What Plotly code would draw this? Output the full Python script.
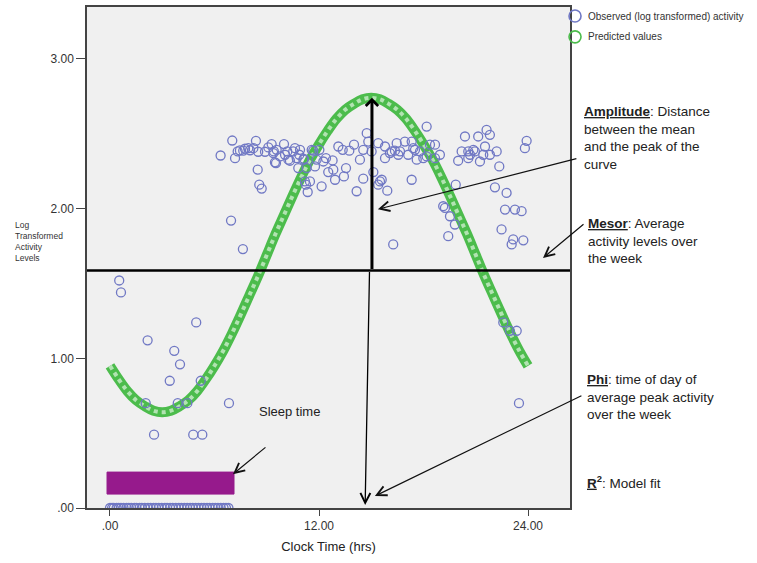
import plotly.graph_objects as go

# ---------------- data ----------------
obs_hours = [
    0.53, 0.63, 2.16, 3.69, 4.02, 4.95, 3.43, 5.21, 2.05, 3.89, 4.44, 6.83, 2.53, 4.78, 5.30, 7.63, 6.95,
    6.35, 7.02, 7.18, 7.33, 7.46, 7.65, 7.75, 7.94, 8.04, 8.23, 8.38, 8.48, 8.51, 8.57, 8.71, 8.90,
    9.09, 9.28, 9.38, 9.41, 9.47, 9.53, 9.57, 9.76, 9.99, 10.05, 10.18, 10.24, 10.33, 10.52, 10.62,
    10.72, 10.81, 10.87, 10.91, 11.10, 11.14, 11.19, 11.25, 11.29, 11.35, 11.48, 11.58, 11.67, 11.77,
    11.86, 12.02, 12.15, 12.25,
    12.40, 12.53, 12.78, 12.82, 12.92, 13.11, 13.36, 13.43, 13.55, 13.74, 14.01, 14.16, 14.35, 14.54,
    14.54, 14.74, 14.83, 15.02, 15.12, 15.40, 15.40, 15.50, 15.60, 15.79, 15.79, 15.92, 16.07, 16.17,
    16.26, 16.36, 16.46, 16.55, 16.65, 16.93, 17.12, 17.32, 17.32, 17.41, 17.51, 17.61, 17.80, 17.99,
    18.18, 18.18, 18.37, 18.66, 18.66, 18.94,
    19.13, 19.23, 19.42, 19.52, 19.80, 19.85, 19.99, 20.19, 20.38, 20.57, 20.57, 20.67, 20.86, 20.95,
    21.14, 21.24, 21.43, 21.53, 21.62, 21.81, 21.81, 22.10, 22.20, 22.35, 22.48, 22.68, 22.77, 23.06,
    23.15, 23.25, 23.63, 23.73, 23.82, 23.92, 22.58, 22.96, 23.35, 23.48,
]
obs_values = [
    1.52, 1.44, 1.12, 1.05, 0.96, 1.24, 0.85, 0.85, 0.70, 0.70, 0.70, 0.70, 0.49, 0.49, 0.49, 1.73, 1.92,
    2.355, 2.455, 2.337, 2.382, 2.389, 2.387, 2.40, 2.404, 2.39, 2.404, 2.453, 2.26, 2.38, 2.16, 2.134, 2.38,
    2.409, 2.431, 2.371, 2.382, 2.309, 2.304, 2.393, 2.349, 2.431, 2.36, 2.382, 2.327, 2.32, 2.382, 2.404,
    2.337, 2.271, 2.36, 2.393, 2.327, 2.333, 2.182, 2.16, 2.271, 2.111, 2.182, 2.393, 2.387, 2.282,
    2.327, 2.393, 2.149, 2.315,
    2.337, 2.244, 2.322, 2.26, 2.193, 2.415, 2.393, 2.215, 2.271, 2.387, 2.427, 2.116, 2.327, 2.20,
    2.393, 2.504, 2.448, 2.382, 2.244, 2.437, 2.16, 2.182, 2.193, 2.337, 2.415, 2.12, 2.371, 2.382,
    1.761, 2.387, 2.437, 2.36, 2.382, 2.448, 2.36, 2.193, 2.448, 2.404, 2.393, 2.327, 2.382, 2.337,
    2.548, 2.349, 2.427, 2.427, 2.337, 2.36,
    2.016, 2.005, 1.816, 1.949, 1.894, 2.16, 2.32, 2.382, 2.482, 2.382, 2.337, 2.36, 2.393, 2.382,
    2.482, 2.315, 2.36, 2.415, 2.526, 2.493, 2.36, 2.142, 2.382, 2.282, 1.861, 1.994, 2.105, 1.761,
    1.794, 1.994, 1.983, 1.788, 2.404, 2.453, 1.24, 1.184, 1.184, 0.70,
]

zero_hours = [
    0.0, 0.12, 0.22, 0.38, 0.5, 0.63, 0.78, 0.95, 1.08, 1.22, 1.4, 1.52, 1.7, 1.83, 2.0, 2.18,
    2.33, 2.5, 2.64, 2.8, 2.97, 3.15, 3.28, 3.45, 3.6, 3.78, 3.95, 4.1, 4.27, 4.43, 4.6, 4.75,
    4.92, 5.08, 5.25, 5.4, 5.57, 5.72, 5.9, 6.05, 6.2, 6.36, 6.52, 6.66, 6.8,
]
zero_values = [0.0] * len(zero_hours)

pred_hours = [
    0, 0.5, 1, 1.5, 2, 2.5, 3, 3.5, 4, 4.5, 5, 5.5, 6, 6.5, 7, 7.5, 8, 8.5, 9, 9.5, 10, 10.5, 11,
    11.5, 12, 12.5, 13, 13.5, 14, 14.5, 15, 15.5, 16, 16.5, 17, 17.5, 18, 18.5, 19, 19.5, 20, 20.5,
    21, 21.5, 22, 22.5, 23, 23.5, 24,
]
pred_values = [
    0.95, 0.86, 0.78, 0.72, 0.68, 0.65, 0.64, 0.65, 0.68, 0.72, 0.78, 0.86, 0.95, 1.05, 1.165, 1.29,
    1.42, 1.55, 1.69, 1.83, 1.96, 2.09, 2.215, 2.33, 2.43, 2.52, 2.60, 2.66, 2.70, 2.73, 2.74, 2.73,
    2.70, 2.66, 2.60, 2.52, 2.43, 2.33, 2.215, 2.09, 1.96, 1.83, 1.69, 1.55, 1.42, 1.29, 1.165, 1.05,
    0.95,
]

mesor = 1.587
peak_hour = 15.04
peak_value = 2.74
sleep_start, sleep_end = -0.17, 7.12

x_tickvals = [0, 12, 24]
x_ticktext = [".00", "12.00", "24.00"]
y_tickvals = [0, 1, 2, 3]
y_ticktext = [".00", "1.00", "2.00", "3.00"]

# ---------------- styling ----------------
FONT = "Arial, Liberation Sans, Helvetica, sans-serif"
BLUE = "#7078C4"
GREEN = "#4CBC4C"
GREEN_LIGHT = "#B2E3B2"
TXT = "#222222"

fig = go.Figure()

# predicted curve (band of rings)
fig.add_trace(go.Scatter(x=pred_hours, y=pred_values, mode="lines",
                         line=dict(color=GREEN, width=10, shape="spline"),
                         showlegend=False, hoverinfo="skip"))
fig.add_trace(go.Scatter(x=pred_hours, y=pred_values, mode="lines",
                         line=dict(color=GREEN_LIGHT, width=4, shape="spline", dash="dot"),
                         showlegend=False, hoverinfo="skip"))

# observed
fig.add_trace(go.Scatter(x=obs_hours + zero_hours, y=obs_values + zero_values, mode="markers",
                         marker=dict(symbol="circle-open", size=9, color=BLUE,
                                     line=dict(width=1.3, color=BLUE)),
                         cliponaxis=True, showlegend=False))

shapes = []
# sleep bar
shapes.append(dict(type="rect", xref="x", yref="y", x0=sleep_start, x1=sleep_end, y0=0.093, y1=0.24,
                   fillcolor="#961A8C", line=dict(width=1, color="#961A8C"), layer="above"))
# mesor line
shapes.append(dict(type="line", xref="paper", yref="y", x0=0, x1=1, y0=mesor, y1=mesor,
                   line=dict(color="black", width=2.5), layer="above"))
# legend circles
for yp, col in [(0.982, BLUE), (0.9404, GREEN)]:
    shapes.append(dict(type="circle", xref="paper", yref="paper", xsizemode="pixel", ysizemode="pixel",
                       xanchor=1.0104, yanchor=yp, x0=-6, x1=6, y0=-6, y1=6,
                       line=dict(color=col, width=1.6)))

annotations = []
# amplitude thick arrow
annotations.append(dict(x=peak_hour, y=peak_value, ax=peak_hour, ay=mesor, xref="x", yref="y",
                        axref="x", ayref="y", text="", showarrow=True, arrowhead=4,
                        arrowwidth=3, arrowsize=0.8, arrowcolor="black"))
# phi thin arrow
annotations.append(dict(x=14.65, y=0.02, ax=14.9, ay=mesor, xref="x", yref="y",
                        axref="x", ayref="y", text="", showarrow=True, arrowhead=5,
                        arrowwidth=1.3, arrowsize=1.5, arrowcolor="black"))
# pointer arrows (head in data coords, tail offset in px)
for hx, hy, ax, ay in [(15.38, 1.996, 200, -51), (24.86, 1.67, 42, -35),
                       (15.21, 0.08, 208, -101), (7.06, 0.226, 34, -28)]:
    annotations.append(dict(x=hx, y=hy, ax=ax, ay=ay, xref="x", yref="y", text="",
                            showarrow=True, arrowhead=5, arrowwidth=1.2, arrowsize=1.6,
                            arrowcolor="#111111"))
# sleep label
annotations.append(dict(x=8.44, y=0.645, xref="x", yref="y", text="Sleep time", showarrow=False,
                        xanchor="left", yanchor="middle", font=dict(family=FONT, size=13, color=TXT)))
# side texts
side = [
    (1.0248, 0.811, "top", "<b><u>Amplitude</u></b>: Distance<br>between the mean<br>and the peak of the<br>curve"),
    (1.033, 0.5865, "top", "<b><u>Mesor</u></b>: Average<br>activity levels over<br>the week"),
    (1.031, 0.2764, "top", "<b><u>Phi</u></b>: time of day of<br>average peak activity<br>over the week"),
    (1.031, 0.0517, "middle", "<b><u>R</u><sup>2</sup></b>: Model fit"),
]
for xp, yp, ya, t in side:
    annotations.append(dict(x=xp, y=yp, xref="paper", yref="paper", text=t, showarrow=False,
                            xanchor="left", yanchor=ya, align="left",
                            font=dict(family=FONT, size=13.5, color=TXT)))
# legend texts
for yp, t in [(0.982, "Observed (log transformed) activity"), (0.9404, "Predicted values")]:
    annotations.append(dict(x=1.033, y=yp, xref="paper", yref="paper", text=t, showarrow=False,
                            xanchor="left", yanchor="middle", font=dict(family=FONT, size=10, color="#333")))
# y-axis title
annotations.append(dict(x=-0.153, y=0.531, xref="paper", yref="paper",
                        text="Log<br>Transformed<br>Activity<br>Levels", showarrow=False,
                        xanchor="left", yanchor="middle", align="left",
                        font=dict(family=FONT, size=8.5, color="#333")))

fig.update_layout(
    width=757, height=563,
    margin=dict(l=87, r=187, t=5, b=55),
    paper_bgcolor="white", plot_bgcolor="#F0F0F0",
    font=dict(family=FONT, color="#333"),
    showlegend=False,
    shapes=shapes, annotations=annotations,
    xaxis=dict(range=[-1.32, 26.41], tickvals=x_tickvals, ticktext=x_ticktext, ticks="outside",
               ticklen=6, tickcolor="#444", showgrid=False, zeroline=False, showline=True,
               mirror=True, linecolor="#444", linewidth=1.5, tickfont=dict(size=12, color="#333"),
               title=dict(text="Clock Time (hrs)", font=dict(size=13, color="#222"), standoff=10)),
    yaxis=dict(range=[0, 3.347], tickvals=y_tickvals, ticktext=y_ticktext, ticks="outside",
               ticklen=9, tickcolor="#444", showgrid=False, zeroline=False, showline=True,
               mirror=True, linecolor="#444", linewidth=1.5, tickfont=dict(size=12, color="#333")),
)

fig.write_html("out.html", config={"displayModeBar": False},
               post_script="document.body.style.margin='0px';document.body.style.overflow='hidden';")
